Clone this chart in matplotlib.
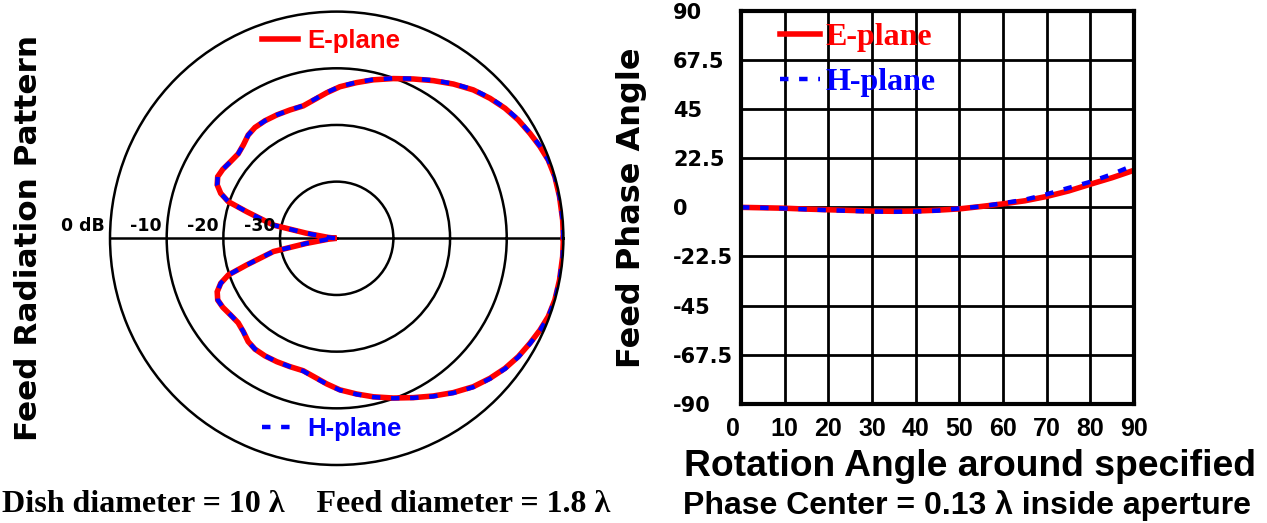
import numpy as np
import matplotlib
matplotlib.use("Agg")
import matplotlib.pyplot as plt
import matplotlib.transforms as mtransforms

# ── data ──────────────────────────────────────────────────────────────────────

# feed radiation pattern, upper half (deg from boresight, dB); lower half mirrors it
pattern_deg = [0, 4.6, 10.6, 15.8, 20.3, 24.3, 28.5, 33.1, 37.7, 42.4, 47.4, 52.9,
               58.5, 64.3, 70.5, 77, 82.7, 88.8, 93.9, 98.1, 104.2, 110, 115.9,
               121.4, 126.4, 130.6, 135, 139.4, 144.1, 148.8, 152.6, 155.9, 158.8,
               161.3, 163.5, 168.2, 170.5, 174, 180]
e_plane_db = [0, 0, 0, 0, -0.2, -0.65, -1.2, -1.76, -2.47, -3.37, -4.42, -5.87,
              -7.37, -8.8, -10.1, -11.3, -12.3, -13.25, -14.25, -15.05, -15.9,
              -15.9, -15.8, -15.7, -15.7, -16.0, -16.7, -17.1, -16.9, -16.5,
              -16.35, -16.9, -18.05, -19.8, -23.4, -28.6, -34.6, -38.5, -40]
h_plane_db = [0, 0, 0, 0, -0.2, -0.6, -1.15, -1.7, -2.4, -3.3, -4.35, -5.8,
              -7.3, -8.75, -10.05, -11.25, -12.25, -13.2, -14.2, -15.0, -15.85,
              -15.9, -15.8, -15.7, -15.7, -16.0, -16.7, -17.1, -16.9, -16.5,
              -16.35, -16.9, -18.05, -19.8, -23.4, -28.6, -34.6, -38.5, -40]
ring_db = [-30, -20, -10]
ring_labels = ["0 dB", "-10", "-20", "-30"]
ring_label_db = [0, -10, -20, -30]

# feed phase vs rotation angle
rot_angle = [0, 5, 10, 15, 20, 25, 30, 35, 40, 45, 50, 55, 60, 65, 70, 75, 80, 85, 90]
e_phase = [0, -0.2, -0.4, -0.8, -1.1, -1.4, -1.7, -1.8, -1.7, -1.3, -0.7, 0.4,
           1.6, 3.0, 5.0, 7.5, 10.6, 13.6, 17.0]
h_phase = [0, -0.2, -0.5, -0.9, -1.3, -1.6, -1.9, -2.0, -1.9, -1.5, -0.5, 0.4,
           1.9, 3.5, 6.0, 8.9, 11.7, 15.2, 19.4]
phase_ticks = [-90, -67.5, -45, -22.5, 0, 22.5, 45, 67.5, 90]
phase_tick_labels = ["-90", "-67.5", "-45", "-22.5", "0", "22.5", "45", "67.5", "90"]
angle_ticks = [0, 10, 20, 30, 40, 50, 60, 70, 80, 90]

# ── style ─────────────────────────────────────────────────────────────────────
RED = "#FF0000"
BLUE = "#0000FF"
SANS = "Liberation Sans"
SERIF = "Liberation Serif"
WIDE = "DejaVu Sans"
RED_LW = 4.0
BLUE_LW = 3.2
DASH = (0, (1.9, 2.4))

W, H = 1267, 523
fig = plt.figure(figsize=(W / 100, H / 100), dpi=100, facecolor="white")


def fx(px):
    return px / W


def fy(py):
    return 1 - py / H


# ── left: polar radiation pattern ─────────────────────────────────────────────
ax1 = fig.add_axes([0.0868, 0.1109, 0.3579, 0.8669], projection="polar")
th = np.deg2rad(pattern_deg)
th_full = np.concatenate([th, 2 * np.pi - th[::-1]])
e_full = np.concatenate([e_plane_db, e_plane_db[::-1]])
h_full = np.concatenate([h_plane_db, h_plane_db[::-1]])

l_e, = ax1.plot(th_full, e_full, color=RED, lw=RED_LW, solid_joinstyle="miter")
l_h, = ax1.plot(th_full, h_full, color=BLUE, lw=BLUE_LW, linestyle=DASH)

ax1.set_rlim(-40, 0)
ax1.set_rgrids(ring_db, labels=["", "", ""])
ax1.set_thetagrids([0, 180], labels=["", ""])
ax1.grid(True, color="black", lw=1.8, linestyle="-")
ax1.spines["polar"].set_linewidth(1.8)
ax1.spines["polar"].set_color("black")

for lbl, r in zip(ring_labels, ring_label_db):
    ax1.annotate(lbl, xy=(np.pi, r), xytext=(-3.6, 5.5), textcoords="offset points",
                 ha="right", va="baseline", fontsize=12.5, fontweight="bold",
                 family=WIDE)

leg_e = ax1.legend([l_e], ["E-plane"], loc="center left",
                   bbox_to_anchor=(fx(262), fy(41)), bbox_transform=fig.transFigure,
                   frameon=False, borderpad=0, borderaxespad=0,
                   handlelength=1.4, handletextpad=0.35, labelcolor="linecolor",
                   prop={"family": SANS, "weight": "bold", "size": 18.5})
ax1.add_artist(leg_e)
ax1.legend([l_h], ["H-plane"], loc="center left",
           bbox_to_anchor=(fx(262), fy(429)), bbox_transform=fig.transFigure,
           frameon=False, borderpad=0, borderaxespad=0,
           handlelength=1.4, handletextpad=0.35, labelcolor="linecolor",
           prop={"family": SANS, "weight": "bold", "size": 18.5})

fig.text(fx(29), fy(238), "Feed Radiation Pattern", rotation=90, ha="center",
         va="center", fontsize=22.4, fontweight="bold", family=WIDE)

# ── right: phase vs rotation angle ────────────────────────────────────────────
ax2 = fig.add_axes([741 / W, 1 - 403.7 / H, 393 / W, 392.7 / H])
p_e, = ax2.plot(rot_angle, e_phase, color=RED, lw=RED_LW)
p_h, = ax2.plot(rot_angle, h_phase, color=BLUE, lw=BLUE_LW, linestyle=DASH)

ax2.set_xlim(0, 90)
ax2.set_ylim(-90, 90)
ax2.set_xticks(angle_ticks)
ax2.set_yticks(phase_ticks)
ax2.set_yticklabels(phase_tick_labels)
ax2.grid(True, color="black", lw=2.0)
ax2.set_axisbelow(True)
for s in ax2.spines.values():
    s.set_linewidth(3.0)
ax2.tick_params(axis="x", length=0, pad=9.4, labelsize=18)
ax2.tick_params(axis="y", length=0, pad=49, labelsize=15)
for t in ax2.get_xticklabels():
    t.set_fontfamily(SANS)
    t.set_fontweight("bold")
for t in ax2.get_yticklabels():
    t.set_fontfamily(WIDE)
    t.set_fontweight("bold")
    t.set_horizontalalignment("left")

# the "0" under the corner sits a little to the left of its grid line
first = ax2.get_xticklabels()[0]
first.set_transform(first.get_transform() +
                    mtransforms.ScaledTranslation(-6 / 72, 0, fig.dpi_scale_trans))

ax2.set_ylabel("Feed Phase Angle", fontsize=23, fontweight="bold", family=WIDE)
ax2.yaxis.set_label_coords((647 - 741) / 393, 0.5)

ax2.legend([p_e, p_h], ["E-plane", "H-plane"], loc="center left",
           bbox_to_anchor=(fx(780), fy(59.7)), bbox_transform=fig.transFigure,
           frameon=False, borderpad=0, borderaxespad=0, labelspacing=0.48,
           handlelength=1.25, handletextpad=0.16, labelcolor="linecolor",
           prop={"family": SERIF, "weight": "bold", "size": 23})

# ── bottom captions ───────────────────────────────────────────────────────────
fig.text(fx(970), fy(466), "Rotation Angle around specified", ha="center",
         va="center", fontsize=26.8, fontweight="bold", family=SANS)
fig.text(fx(967), fy(506), "Phase Center = 0.13 \u03bb inside aperture", ha="center",
         va="center", fontsize=23, fontweight="bold", family=SANS)
fig.text(fx(306), fy(505), "Dish diameter = 10 \u03bb    Feed diameter = 1.8 \u03bb",
         ha="center", va="center", fontsize=23, fontweight="bold", family=SERIF)

fig.savefig("out.png", dpi=100, facecolor="white")
